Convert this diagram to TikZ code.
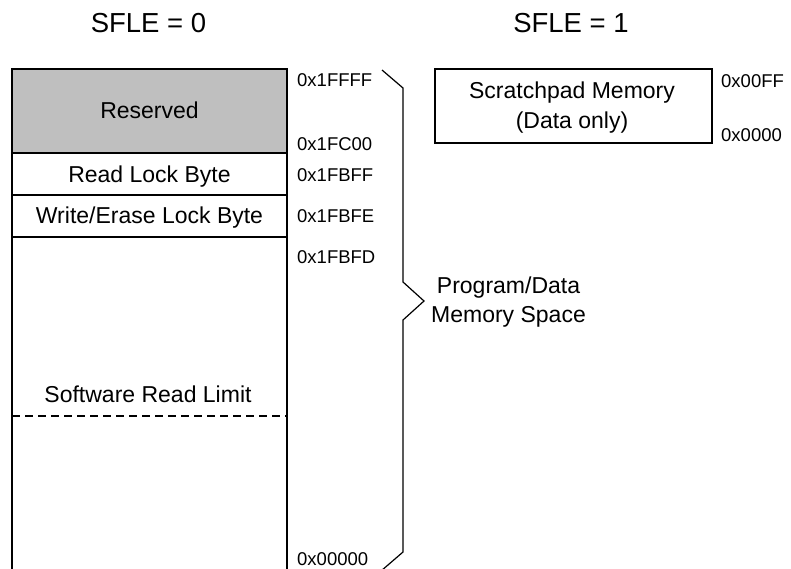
\documentclass[tikz,border=0pt]{standalone}
\usepackage{fontspec}
\setmainfont{Liberation Sans}
\begin{document}
\begin{tikzpicture}[x=1pt,y=-1pt,
  box/.style={draw=black,line width=1.2pt,inner sep=0pt,outer sep=0pt,minimum width=275pt},
  lbl/.style={anchor=base,inner sep=0pt,font=\fontsize{23}{28}\selectfont},
  addr/.style={anchor=base west,inner sep=0pt,font=\fontsize{18.5}{22}\selectfont},
  ttl/.style={anchor=base,inner sep=0pt,font=\fontsize{27.5}{32}\selectfont},
  brace/.style={draw=black,line width=1.2pt,line join=miter}]
\clip (0,0) rectangle (791,568);
\useasboundingbox (0,0) rectangle (791,568);
% titles
\node[ttl] (t0) at (148.5,32) {SFLE = 0};
\node[ttl] (t1) at (571,32) {SFLE = 1};
% left column
\node[box,fill=black!25,minimum height=84pt] (res) at (149.5,111) {};
\node[box,minimum height=42pt] (rlb) at (149.5,174) {};
\node[box,minimum height=42pt] (wlb) at (149.5,216) {};
\node[box,minimum height=340pt] (main) at (149.5,407) {};
\node[lbl] (resl) at (149.5,118) {Reserved};
\node[lbl] (rlbl) at (149.5,182) {Read Lock Byte};
\node[lbl] (wlbl) at (149.5,223) {Write/Erase Lock Byte};
\node[lbl] (swl) at (148,402) {Software Read Limit};
\coordinate (dl) at (12,416);
\coordinate (dr) at (287,416);
\draw[line width=1.2pt,dash pattern=on 8pt off 5pt] (dl) -- (dr);
% addresses
\node[addr] (a1) at (297,86) {0x1FFFF};
\node[addr] (a2) at (297,150) {0x1FC00};
\node[addr] (a3) at (297,181) {0x1FBFF};
\node[addr] (a4) at (297,222) {0x1FBFE};
\node[addr] (a5) at (297,263.5) {0x1FBFD};
\node[addr] (a6) at (297,565.5) {0x00000};
% brace
\coordinate (b1) at (382,70);
\coordinate (b2) at (403,88);
\coordinate (b3) at (403,282);
\coordinate (b4) at (424,301);
\coordinate (b5) at (403,320);
\coordinate (b6) at (403,552);
\coordinate (b7) at (381,571);
\draw[brace] (b1) -- (b2) -- (b3) -- (b4) -- (b5) -- (b6) -- (b7);
\node[lbl] (pd1) at (508.5,293) {Program/Data};
\node[lbl] (pd2) at (508.5,322) {Memory Space};
% scratchpad
\node[draw=black,line width=1.2pt,inner sep=0pt,minimum width=277pt,minimum height=74pt] (sp) at (573.5,106) {};
\node[lbl] (sp1) at (572,98) {Scratchpad Memory};
\node[lbl] (sp2) at (572,128.5) {(Data only)};
\node[addr] (s1) at (721,87.5) {0x00FF};
\node[addr] (s2) at (721,141.5) {0x0000};
\end{tikzpicture}
\end{document}
